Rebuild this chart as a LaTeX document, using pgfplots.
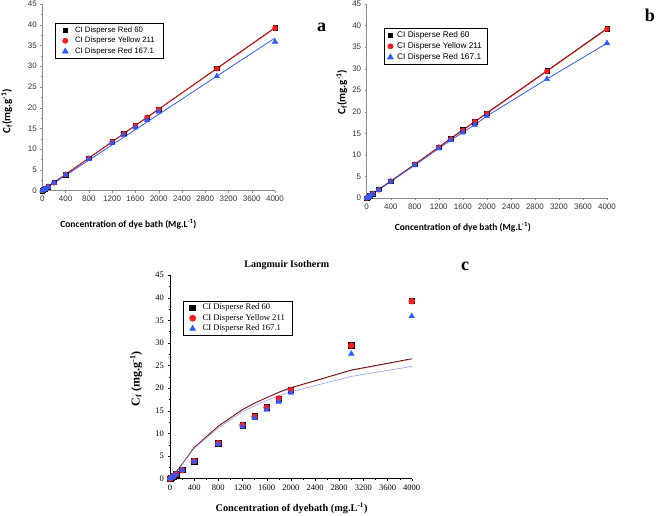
\documentclass[border=0pt]{standalone}
\usepackage{fontspec}
\usepackage{pgfplots}
\usepackage{pgfplotstable}
\pgfplotsset{compat=1.18}
\newfontfamily\arialf{Liberation Sans}
\newfontfamily\calf{Carlito}
\newfontfamily\timesf{Liberation Serif}
\definecolor{cred}{HTML}{FF1A1A}
\definecolor{cblue}{HTML}{2E5BFF}
\definecolor{lblue}{HTML}{8C9CFF}

\pgfplotstableread{
x     r60   y211  r167
0     0.0   0.0   0.0
20    0.2   0.2   0.2
50    0.5   0.5   0.4
100   1.0   1.0   0.9
200   2.0   1.9   1.9
400   3.9   3.9   3.8
800   7.8   7.8   7.6
1200  11.8  11.8  11.5
1400  13.8  13.7  13.4
1600  15.8  15.7  15.2
1800  17.7  17.7  17.0
2000  19.7  19.6  19.0
3000  29.5  29.4  27.6
4000  39.3  39.2  35.9
}\data

% linear fits (panel a)
\pgfplotstableread{
x     r60   y211  r167
0     0.0   0.0   0.0
4000  39.3  39.2  36.8
}\fit

% Langmuir model curves (panel c)
\pgfplotstableread{
x     lr60  ly211  lr167
0     0.0   0.0    0.0
20    0.3   0.3    0.3
50    0.8   0.8    0.8
100   1.5   1.5    1.5
200   3.2   3.2    3.1
400   6.9   6.9    6.7
800   11.6  11.6   11.2
1200  15.3  15.2   14.8
1400  16.7  16.6   16.1
1600  17.9  17.9   17.3
1800  19.1  19.0   18.3
2000  20.1  20.0   19.2
3000  24.0  23.9   22.6
4000  26.5  26.4   24.8
}\lang

\pgfplotsset{
  panelab/.style={
    scale only axis, axis lines*=left,
    xmin=0, xmax=4000, ymin=0, ymax=45,
    xtick={0,400,...,4000}, ytick={0,5,...,45},
    minor y tick num=1,
    tick align=outside, major tick length=2pt, minor tick length=1.2pt,
    axis line style={black!45, line width=0.7pt}, tick style={black!45},
    tick label style={font=\arialf\fontsize{8}{9}\selectfont, text=black!80},
    /pgf/number format/assume math mode=true,
    /pgf/number format/1000 sep={},
    scaled ticks=false,
    xlabel style={font=\calf\bfseries\fontsize{9.5}{10}\selectfont},
    ylabel style={font=\calf\bfseries\fontsize{11}{12}\selectfont},
    legend cell align=left,
    clip=false,
  },
}

\begin{document}
\begin{tikzpicture}[x=1pt,y=1pt]
\useasboundingbox (0,0) rectangle (662,516);

% ---------------- panel a ----------------
\begin{axis}[panelab,
  at={(42.3pt,325.3pt)}, anchor=south west,
  width=232.7pt, height=186.7pt,
  xlabel={Concentration of dye bath (Mg.L\textsuperscript{-1})},
  ylabel={C\textsubscript{f}(mg.g\textsuperscript{-1})},
  xlabel style={at={(axis description cs:0.37,-0.178)}, anchor=center},
  ylabel style={at={(axis description cs:-0.153,0.425)}, anchor=center},
  legend style={font=\arialf\fontsize{7.8}{8.8}\selectfont, inner xsep=7pt, inner ysep=1.5pt, row sep=-0.5pt,
    at={(0.055,0.90)}, anchor=north west, fill=white, draw=black, line width=0.8pt},
]
\addplot[black, line width=0.8pt, forget plot] table[x=x,y=r60] {\fit};
\addplot[cred, line width=0.8pt, forget plot] table[x=x,y=y211] {\fit};
\addplot[cblue, line width=0.8pt, forget plot] table[x=x,y=r167] {\fit};
\addplot[only marks, mark=square*, mark size=2.2pt, black] table[x=x,y=r60] {\data};
\addplot[only marks, mark=*, mark size=2.5pt, cred] table[x=x,y=y211] {\data};
\addplot[only marks, mark=triangle*, mark size=3.2pt, cblue] table[x=x,y=r167] {\data};
\legend{\hspace{5pt}CI Disperse Red 60, \hspace{5pt}CI Disperse Yellow 211, \hspace{5pt}CI Disperse Red 167.1}
\end{axis}

% ---------------- panel b ----------------
\begin{axis}[panelab,
  at={(366.7pt,318pt)}, anchor=south west,
  width=240.3pt, height=194pt,
  xlabel={Concentration of dye bath (Mg.L\textsuperscript{-1})},
  ylabel={C\textsubscript{f}(mg.g\textsuperscript{-1})},
  xlabel style={at={(axis description cs:0.40,-0.15)}, anchor=center},
  ylabel style={at={(axis description cs:-0.104,0.546)}, anchor=center},
  legend style={font=\arialf\fontsize{8.3}{9.2}\selectfont, inner xsep=3pt, inner ysep=1.5pt, row sep=-0.5pt,
    at={(0.073,0.878)}, anchor=north west, fill=white, draw=black, line width=0.8pt},
]
\addplot[black, line width=0.9pt, forget plot] table[x=x,y=r60] {\data};
\addplot[cred, line width=0.8pt, forget plot] table[x=x,y=y211] {\data};
\addplot[cblue, line width=0.8pt, forget plot] table[x=x,y=r167] {\data};
\addplot[only marks, mark=square*, mark size=2.2pt, black] table[x=x,y=r60] {\data};
\addplot[only marks, mark=*, mark size=2.5pt, cred] table[x=x,y=y211] {\data};
\addplot[only marks, mark=triangle*, mark size=3.2pt, cblue] table[x=x,y=r167] {\data};
\legend{\hspace{2pt}CI Disperse Red 60, \hspace{2pt}CI Disperse Yellow 211\hspace{5pt}, \hspace{2pt}CI Disperse Red 167.1}
\end{axis}

% ---------------- panel c ----------------
\begin{axis}[
  scale only axis, axis lines*=left,
  at={(170pt,37.3pt)}, anchor=south west,
  width=241.7pt, height=203.7pt,
  xmin=0, xmax=4000, ymin=0, ymax=45,
  xtick={0,400,...,4000}, ytick={0,5,...,45},
  minor tick num=1,
  tick align=outside, major tick length=2.5pt, minor tick length=1.5pt,
  axis line style={black, line width=0.7pt}, tick style={black},
  tick label style={font=\timesf\fontsize{8.5}{9}\selectfont},
  /pgf/number format/assume math mode=true,
  /pgf/number format/1000 sep={},
  scaled ticks=false,
  title={Langmuir Isotherm},
  title style={font=\timesf\bfseries\fontsize{10}{11}\selectfont, at={(axis description cs:0.483,1.02)}, anchor=center},
  xlabel={Concentration of dyebath (mg.L\textsuperscript{-1})},
  ylabel={C\textsubscript{f} (mg.g\textsuperscript{-1})},
  xlabel style={font=\timesf\bfseries\fontsize{10.3}{11}\selectfont, at={(axis description cs:0.503,-0.144)}, anchor=center},
  ylabel style={font=\timesf\bfseries\fontsize{12}{13}\selectfont, at={(axis description cs:-0.14,0.49)}, anchor=center},
  legend cell align=left,
  legend style={font=\timesf\fontsize{8.6}{9.5}\selectfont, inner xsep=6pt, inner ysep=1pt, row sep=-1pt,
    at={(0.055,0.874)}, anchor=north west, fill=white, draw=black, line width=0.7pt},
  clip=false,
]
\addplot[black, line width=0.7pt, forget plot] table[x=x,y=lr60] {\lang};
\addplot[cred, line width=0.7pt, opacity=0.6, forget plot] table[x=x,y=ly211] {\lang};
\addplot[lblue, line width=0.6pt, forget plot] table[x=x,y=lr167] {\lang};
\addplot[only marks, mark=square*, mark size=2.8pt, black] table[x=x,y=r60] {\data};
\addplot[only marks, mark=*, mark size=3pt, cred] table[x=x,y=y211] {\data};
\addplot[only marks, mark=triangle*, mark size=3.2pt, cblue] table[x=x,y=r167] {\data};
\legend{\hspace{5pt}CI Disperse Red 60, \hspace{5pt}CI Disperse Yellow 211, \hspace{5pt}CI Disperse Red 167.1}
\end{axis}

\node[font=\timesf\bfseries\fontsize{18}{18}\selectfont] at (321.7,488.7) {a};
\node[font=\timesf\bfseries\fontsize{18}{18}\selectfont] at (650,500.3) {b};
\node[font=\timesf\bfseries\fontsize{18}{18}\selectfont] at (465,249.3) {c};
\end{tikzpicture}
\end{document}
